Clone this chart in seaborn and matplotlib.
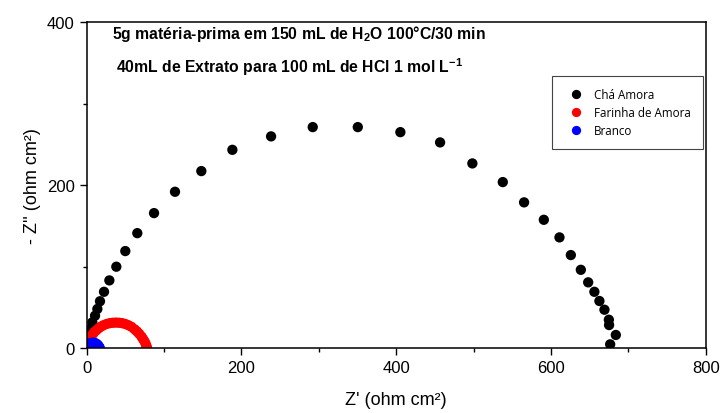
import pandas as pd
import matplotlib.pyplot as plt
import seaborn as sns
from matplotlib.ticker import MultipleLocator

# Chá Amora
cha_x = [0.5, 1.0, 2.0, 4.5, 7.5, 11.0, 14.0, 17.4, 22.6, 29.5, 38.5, 50.1, 65.6,
         87.2, 114.3, 148.3, 188.4, 238.4, 292.2, 350.4, 405.4, 456.7, 498.4,
         537.7, 565.2, 590.7, 610.9, 625.6, 638.5, 648.0, 656.0, 662.5, 669.0,
         674.7, 675.0, 683.7, 676.4]
cha_y = [4.0, 9.0, 17.2, 23.3, 31.5, 39.6, 47.9, 57.4, 69.0, 83.0, 99.8, 119.0, 141.0,
         165.6, 191.8, 217.2, 243.3, 259.8, 271.2, 271.2, 265.0, 252.4, 226.6,
         203.7, 178.8, 157.4, 135.8, 114.1, 96.0, 80.6, 69.0, 57.7, 47.0,
         34.7, 28.2, 16.0, 4.5]

# Farinha de Amora
far_x = [1.0, 1.5, 2.5, 4.0, 6.0, 8.0, 10.0, 13.0, 16.0, 19.0, 22.0, 26.0, 30.0,
         34.0, 38.0, 42.0, 46.0, 50.0, 54.0, 58.0, 62.0, 65.0, 68.0, 71.0, 73.0,
         75.0, 76.5, 77.5, 78.0]
far_y = [2.0, 5.0, 8.0, 11.0, 14.0, 17.0, 19.5, 22.0, 24.5, 26.5, 28.0, 29.5, 30.5,
         31.0, 31.2, 31.0, 30.5, 29.5, 28.0, 26.0, 23.0, 20.5, 17.5, 14.0, 11.0,
         8.0, 5.0, 2.0, 0.5]

# Branco
bra_x = [0.5, 1.0, 2.0, 3.0, 4.0, 5.5, 7.0, 8.5, 10.0, 11.5, 13.0, 14.5, 15.5, 16.5, 17.0]
bra_y = [0.5, 2.0, 3.5, 4.5, 5.3, 6.0, 6.4, 6.5, 6.3, 5.8, 5.0, 3.8, 2.5, 1.0, 0.2]

series_names = ["Chá Amora", "Farinha de Amora", "Branco"]
series_colors = ["black", "red", "blue"]

df = pd.concat([
    pd.DataFrame({"x": cha_x, "y": cha_y, "amostra": series_names[0]}),
    pd.DataFrame({"x": far_x, "y": far_y, "amostra": series_names[1]}),
    pd.DataFrame({"x": bra_x, "y": bra_y, "amostra": series_names[2]}),
], ignore_index=True)

sns.set_theme(style="ticks")
plt.rcParams["font.family"] = ["Liberation Sans", "DejaVu Sans"]
plt.rcParams["mathtext.default"] = "regular"
plt.rcParams["text.color"] = "black"
plt.rcParams["axes.labelcolor"] = "black"

fig = plt.figure(figsize=(7.21, 4.14), dpi=100)
ax = fig.add_axes([0.12, 0.157, 0.859, 0.787])

sns.scatterplot(data=df, x="x", y="y", hue="amostra", hue_order=series_names,
                palette=series_colors, s=55, linewidth=0, ax=ax)

ax.set_xlim(0, 800)
ax.set_ylim(0, 400)
ax.xaxis.set_major_locator(MultipleLocator(200))
ax.xaxis.set_minor_locator(MultipleLocator(100))
ax.yaxis.set_major_locator(MultipleLocator(200))
ax.yaxis.set_minor_locator(MultipleLocator(100))
ax.tick_params(which="major", direction="out", length=5, width=1, labelsize=12,
               colors="black", labelcolor="black")
ax.tick_params(which="minor", direction="out", length=3, width=1, colors="black")
for sp in ax.spines.values():
    sp.set_visible(True)
    sp.set_linewidth(1.1)
    sp.set_color("black")

ax.set_xlabel("Z' (ohm cm²)", fontsize=13, labelpad=12)
ax.set_ylabel("- Z'' (ohm cm²)", fontsize=13, labelpad=4)

ax.text(0.041, 0.966, "5g matéria-prima em 150 mL de H$_2$O 100°C/30 min",
        transform=ax.transAxes, fontsize=11.3, fontweight="bold", va="center", ha="left")
ax.text(0.047, 0.866, "40mL de Extrato para 100 mL de HCl 1 mol L$^{-1}$",
        transform=ax.transAxes, fontsize=11.3, fontweight="bold", va="center", ha="left")

leg = ax.legend(loc="upper right", bbox_to_anchor=(0.995, 0.834), frameon=True,
                fancybox=False, edgecolor="#444444", framealpha=1,
                prop={"family": "Open Sans", "size": 8.4}, borderpad=1.0,
                handletextpad=0.6, labelspacing=0.45, borderaxespad=0,
                markerscale=0.9)
leg.get_frame().set_linewidth(0.8)
leg.set_title(None)

fig.savefig("out.png", dpi=100)
